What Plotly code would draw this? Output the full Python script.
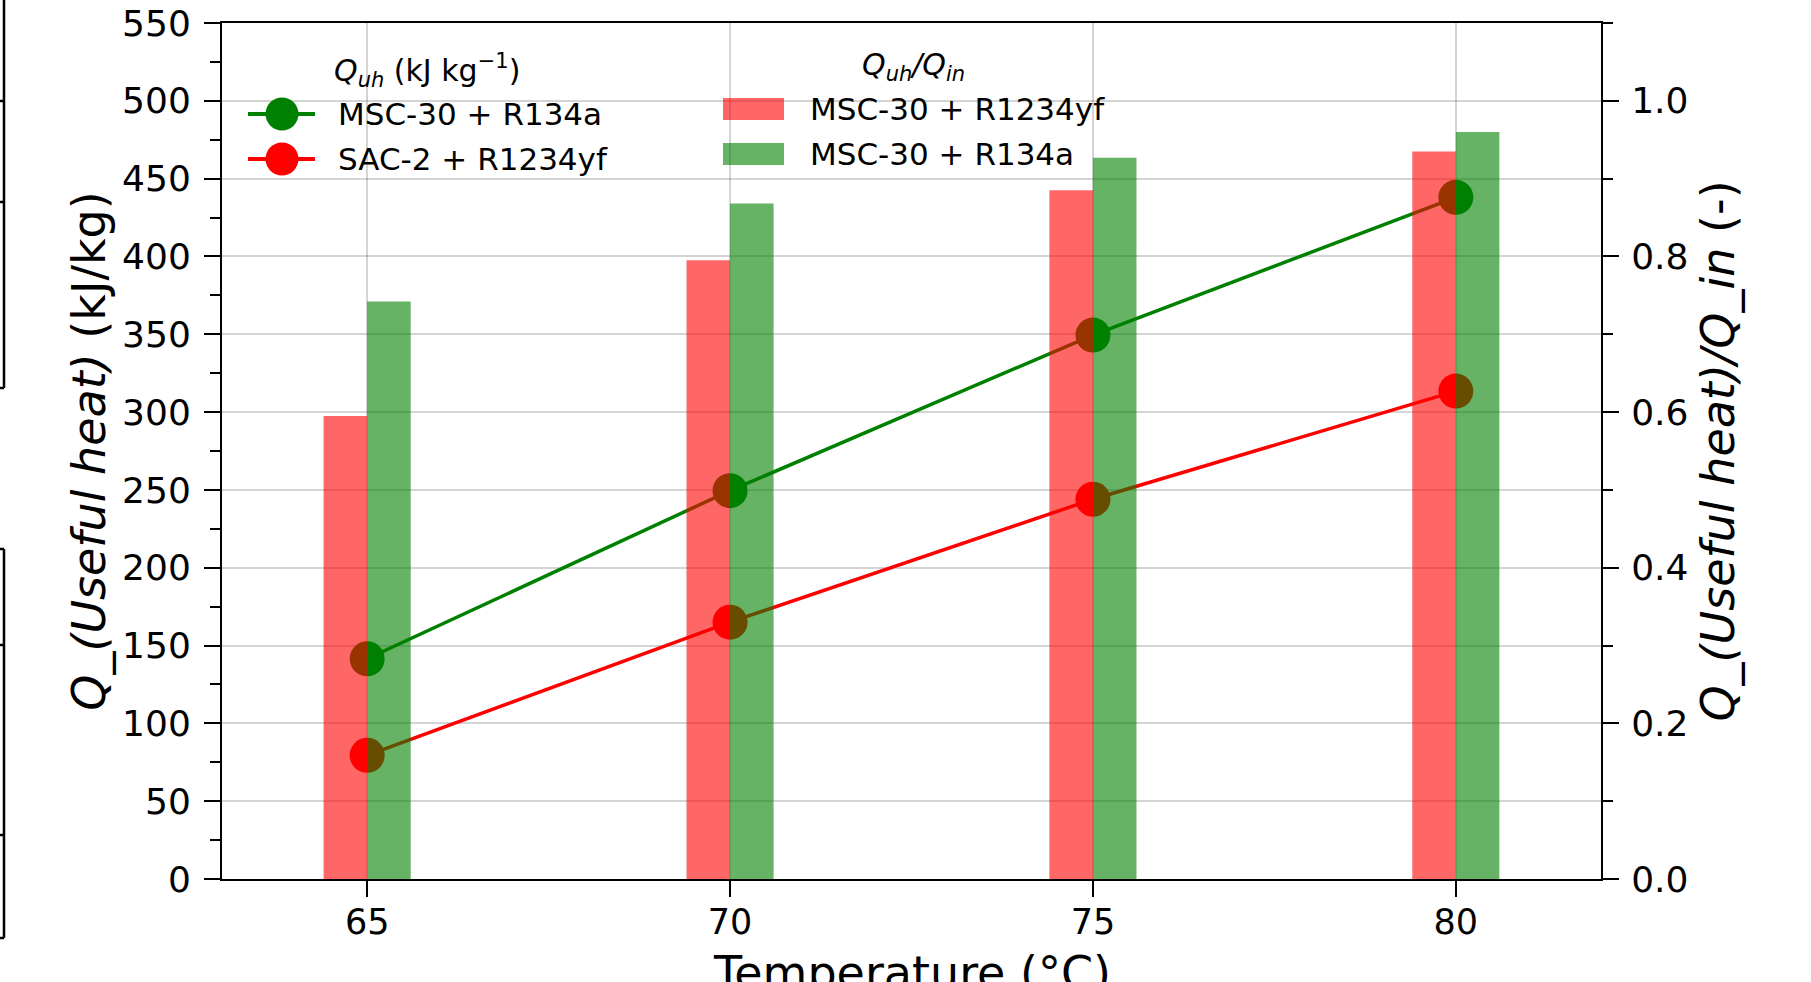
import plotly.graph_objects as go

# ---- data ----
temperature = [65, 70, 75, 80]
quh_msc30_r134a = [141.5, 249.5, 349.5, 438.0]      # kJ/kg, left axis
quh_sac2_r1234yf = [79.5, 165.0, 244.0, 313.5]      # kJ/kg, left axis
ratio_msc30_r1234yf = [0.595, 0.795, 0.885, 0.935]  # Quh/Qin, right axis
ratio_msc30_r134a = [0.742, 0.868, 0.927, 0.960]    # Quh/Qin, right axis
line_names = ["MSC-30 + R134a", "SAC-2 + R1234yf"]
bar_names = ["MSC-30 + R1234yf", "MSC-30 + R134a"]
x_ticks = [65, 70, 75, 80]
y_ticks = [0, 50, 100, 150, 200, 250, 300, 350, 400, 450, 500, 550]
y2_ticks = [0.0, 0.2, 0.4, 0.6, 0.8, 1.0]

FONT = "DejaVu Sans"
W, H = 1811, 982
L, R, T, B = 222, 210, 23, 103
PW, PH = W - L - R, H - T - B

GREEN, RED = "#008000", "#ff0000"
GREEN_A, RED_A = "rgba(0,128,0,0.6)", "rgba(255,0,0,0.6)"

fig = go.Figure()

# lines (left axis)
for vals, nm, c in [(quh_msc30_r134a, line_names[0], GREEN), (quh_sac2_r1234yf, line_names[1], RED)]:
    fig.add_trace(go.Scatter(
        x=temperature, y=vals, mode="lines+markers", name=nm,
        line=dict(color=c, width=3.5), marker=dict(color=c, size=35),
        showlegend=False))

# bars (right axis)
fig.add_trace(go.Bar(
    x=temperature, y=ratio_msc30_r1234yf, width=0.6, offset=-0.6,
    name=bar_names[0], marker=dict(color=RED_A, line=dict(width=0)),
    yaxis="y2", showlegend=False))
fig.add_trace(go.Bar(
    x=temperature, y=ratio_msc30_r134a, width=0.6, offset=0,
    name=bar_names[1], marker=dict(color=GREEN_A, line=dict(width=0)),
    yaxis="y2", showlegend=False))

grid = "rgba(0,0,0,0.17)"
fig.update_layout(
    width=W, height=H,
    margin=dict(l=L, r=R, t=T, b=B, autoexpand=False),
    paper_bgcolor="white", plot_bgcolor="white",
    font=dict(family=FONT, color="black", size=35),
    barmode="overlay", showlegend=False,
    xaxis=dict(
        range=[63, 82], tickvals=x_ticks, ticks="outside", ticklen=16, tickwidth=2,
        tickcolor="black", showline=True, linecolor="black", linewidth=2, mirror=True,
        showgrid=True, gridcolor=grid, gridwidth=2, zeroline=False,
        tickfont=dict(size=35, family=FONT), ticklabelstandoff=-5,
        automargin=False),
    yaxis=dict(
        range=[0, 550], tickvals=y_ticks, ticks="outside", ticklen=16, tickwidth=2,
        tickcolor="black", showline=True, linecolor="black", linewidth=2,
        showgrid=True, gridcolor=grid, gridwidth=2, zeroline=False,
        minor=dict(dtick=25, ticks="outside", ticklen=10, tickwidth=2, tickcolor="black", showgrid=False),
        tickfont=dict(size=36, family=FONT), ticklabelstandoff=6,
        title=dict(text="<i>Q_(Useful heat)</i> (kJ/kg)", font=dict(size=46, family=FONT), standoff=2),
        automargin=False),
    yaxis2=dict(
        overlaying="y", side="right", range=[0, 1.1], tickvals=y2_ticks,
        tickformat=".1f", ticks="outside", ticklen=16, tickwidth=2, tickcolor="black",
        showline=True, linecolor="black", linewidth=2, showgrid=False, zeroline=False,
        minor=dict(dtick=0.1, ticks="outside", ticklen=10, tickwidth=2, tickcolor="black", showgrid=False),
        tickfont=dict(size=36, family=FONT), ticklabelstandoff=5,
        title=dict(text="<i>Q_(Useful heat)/Q_in</i> (-)", font=dict(size=46, family=FONT), standoff=14),
        automargin=False),
)


def px(xp):
    return (xp - L) / PW


def py(yp):
    return (H - B - yp) / PH


def note(x, y, text, size, xanchor="left", yanchor="middle"):
    fig.add_annotation(x=px(x), y=py(y), xref="paper", yref="paper", showarrow=False,
                       text=text, font=dict(size=size, family=FONT, color="black"),
                       xanchor=xanchor, yanchor=yanchor, borderpad=0)


# x-axis title (partly cut by the bottom edge, as in the original)
note(911.5, 945, "Temperature (°C)", 46, xanchor="center", yanchor="top")

# legend 1: Quh (lines with markers)
note(427, 70, "<i>Q<sub>uh</sub></i> (kJ kg<sup>−1</sup>)", 30, xanchor="center")
for yc, nm, c in [(114, line_names[0], GREEN), (159, line_names[1], RED)]:
    fig.add_shape(type="line", xref="paper", yref="paper", x0=px(248), x1=px(315),
                  y0=py(yc), y1=py(yc), line=dict(color=c, width=4))
    fig.add_shape(type="circle", xref="paper", yref="paper", x0=px(282 - 16.5), x1=px(282 + 16.5),
                  y0=py(yc - 16.5), y1=py(yc + 16.5), fillcolor=c, line=dict(width=0))
    note(337, yc, nm, 31)

# legend 2: Quh/Qin (bars)
note(913, 66, "<i>Q<sub>uh</sub>/Q<sub>in</sub></i>", 30, xanchor="center")
for yc, nm, c in [(109, bar_names[0], RED_A), (154, bar_names[1], GREEN_A)]:
    fig.add_shape(type="rect", xref="paper", yref="paper", x0=px(723), x1=px(784),
                  y0=py(yc - 11), y1=py(yc + 11), fillcolor=c, line=dict(width=0))
    note(809, yc, nm, 31)

# stray spine fragments at the far left edge (from a neighbouring panel)
frag = dict(type="line", xref="paper", yref="paper", line=dict(color="black", width=2.5))
for y0, y1, marks in [(0, 388, [101, 202, 388]), (549, 938, [549, 645, 835, 938])]:
    fig.add_shape(x0=px(4), x1=px(4), y0=py(y0), y1=py(y1), **frag)
    for m in marks:
        fig.add_shape(x0=px(0), x1=px(4), y0=py(m), y1=py(m), **frag)

fig.write_html("out.html", config={"displayModeBar": False},
               post_script="document.body.style.margin='0';")
